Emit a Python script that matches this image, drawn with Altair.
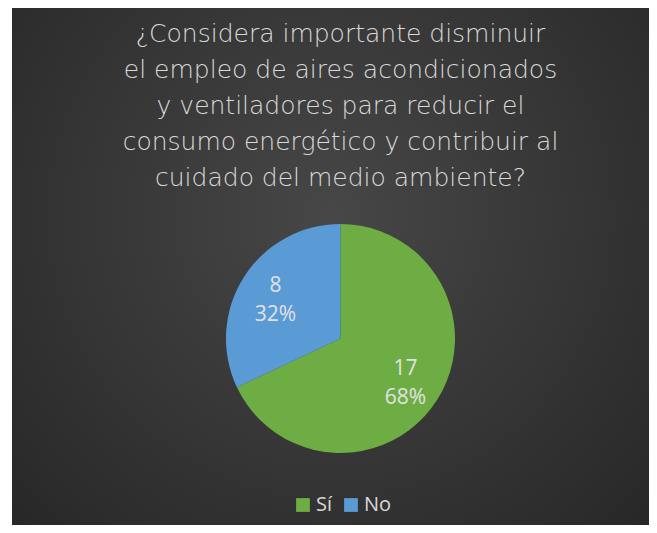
import altair as alt
import pandas as pd

# ---- data ----
categories = ["Sí", "No"]
values = [17, 8]
colors = ["#6DAD44", "#5A9BD6"]
title_lines = [
    "¿Considera importante disminuir",
    "el empleo de aires acondicionados",
    "y ventiladores para reducir el",
    "consumo energético y contribuir al",
    "cuidado del medio ambiente?",
]

total = sum(values)
df = pd.DataFrame({
    "cat": categories,
    "value": values,
    "ord": list(range(len(categories))),
    "label": [f"{v}\n{round(100 * v / total)}%" for v in values],
})

W, H = 641, 517
CX, CY, R = 332.5, 330.5, 114.5

bg = alt.Chart(pd.DataFrame({"a": [0]})).mark_rect(
    color={
        "gradient": "radial",
        "x1": 0.5, "y1": 0.42, "r1": 0,
        "x2": 0.5, "y2": 0.42, "r2": 0.75,
        "stops": [
            {"offset": 0, "color": "#474747"},
            {"offset": 1, "color": "#252525"},
        ],
    }
).encode(x=alt.value(4), x2=alt.value(W), y=alt.value(0), y2=alt.value(H))

title = alt.Chart(pd.DataFrame({"t": ["\n".join(title_lines)]})).mark_text(
    font="DejaVu Sans", fontSize=25, fontWeight=300, color="#D9D9D9",
    align="center", baseline="alphabetic", lineBreak="\n", lineHeight=36,
).encode(x=alt.value(CX), y=alt.value(34), text="t:N")

base = alt.Chart(df)

pie = base.mark_arc(outerRadius=R).encode(
    theta=alt.Theta("value:Q", stack=True),
    order=alt.Order("ord:Q"),
    color=alt.Color(
        "cat:N",
        scale=alt.Scale(domain=categories, range=colors),
        sort=categories,
        legend=alt.Legend(
            title=None, orient="none", legendX=285, legendY=487,
            direction="horizontal", symbolType="square", symbolSize=190,
            symbolStrokeWidth=0, labelFontSize=20, labelFont="Open Sans",
            labelColor="#D9D9D9", labelOffset=3, columnPadding=8, padding=0,
        ),
    ),
    x=alt.value(CX), y=alt.value(CY),
)

labels = base.mark_text(
    radius=77, font="Open Sans", fontSize=21, color="#E2E2E2", dy=-11,
    lineBreak="\n", lineHeight=29, align="center", baseline="middle",
).encode(
    theta=alt.Theta("value:Q", stack=True),
    order=alt.Order("ord:Q"),
    text="label:N",
    x=alt.value(CX), y=alt.value(CY),
)

chart = alt.layer(bg, title, pie, labels).properties(
    width=W, height=H, padding=0, autosize=alt.AutoSizeParams(type="none"),
).configure(background="white").configure_view(stroke=None)

chart.save("out.html", embed_options={"renderer": "svg", "actions": False})
